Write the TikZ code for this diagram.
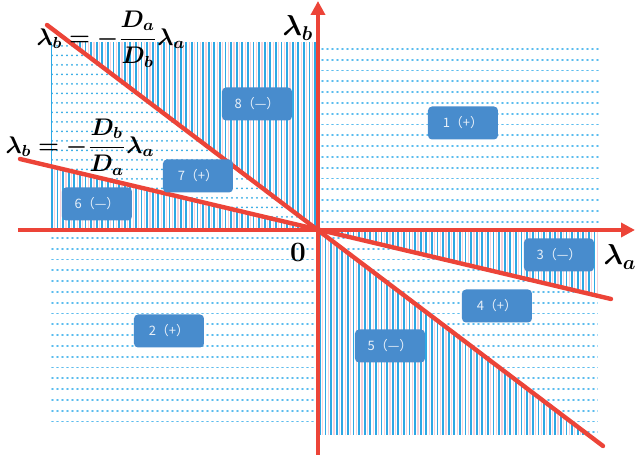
\documentclass[tikz,border=0pt]{standalone}
\usepackage{amsmath}
\usepackage{bm}
\usepackage{fontspec}
\newfontfamily\cjk{Noto Sans CJK SC}
\usetikzlibrary{arrows.meta}
\definecolor{hatchblue}{RGB}{45,168,228}
\definecolor{dashblue}{RGB}{90,188,238}
\definecolor{hatchpink}{RGB}{246,208,218}
\definecolor{boxblue}{RGB}{72,140,205}
\definecolor{axisred}{RGB}{236,68,56}
\newcommand{\vlines}[4]{
    \foreach \x in {#1,#2,...,#3} {
        \draw[hatchpink, line width=0.6pt] (\x+2.8,#4) -- (\x+2.8,0);
        \draw[hatchblue, line width=0.9pt] (\x,#4) -- (\x,0);
    }
}
\newcommand{\dashrows}[4]{
    \foreach \y in {#3,...,#4}
    \draw[dashblue, line width=0.9pt, line cap=round, dash pattern=on 0.5pt off 2pt] (#1,\y) -- (#2,\y);
}

\begin{document}
\begin{tikzpicture}[x=0.5pt,y=0.5pt,
    region/.style={rectangle, rounded corners=2pt, fill=boxblue, text=white!88!boxblue,
        minimum width=35pt, minimum height=16.5pt, inner sep=0pt, font=\cjk\fontsize{6.5}{7}\selectfont},
    axis/.style={axisred, line width=2.2pt},
    border/.style={axisred, line width=2.2pt, line cap=round}]
    \useasboundingbox (-318,-229) rectangle (320,230);
    % upper left: vertical lines, dots between the two borders
    \vlines{-266}{-260.4}{0}{188}
    \begin{scope}
        \clip (0,0) -- (-248,188) -- (-266,188) -- (-266,63) -- cycle;
        \fill[white] (-266,0) rectangle (0,188);
        \foreach \y in {184,174.5,...,0}
        \draw[hatchblue, line width=1pt, line cap=round, dash pattern=on 0pt off 2.5pt] (-266,\y) -- (0,\y);
    \end{scope}
    % lower right: vertical lines, dashes between the two borders
    \vlines{2}{7.6}{280}{-205}
    \begin{scope}
        \clip (0,0) -- (280,-66) -- (280,-205) -- (271,-205) -- cycle;
        \fill[white] (0,0) rectangle (280,-205);
        \dashrows{0}{280}{-8,-18.8}{-205}
    \end{scope}
    % the other two quadrants
    \dashrows{4}{280}{181,170.2}{8}
    \dashrows{-266}{-3}{-8,-18.8}{-202}
    % axes
    \draw[axis, -{Triangle[length=7pt,width=7pt]}] (-300,0) -- (317,0);
    \draw[axis, -{Triangle[length=7pt,width=7pt]}] (0,-225) -- (0,229);
    \coordinate (O) at (0,0);
    \node[font=\fontsize{14}{16}\selectfont] (lb) at (-20,202) {$\bm{\lambda_b}$};
    \node[font=\fontsize{14}{16}\selectfont] (la) at (302,-27) {$\bm{\lambda_a}$};
    \node[font=\bfseries\fontsize{14}{16}\selectfont] (zero) at (-20,-22) {0};
    % borders
    \draw[border] (-271,205) -- (285,-216);
    \draw[border] (-298,71) -- (293,-69);
    \node[font=\fontsize{12}{14}\selectfont] (eq1) at (-207,191)
        {$\bm{\lambda_b=-\dfrac{D_a}{D_b}\lambda_a}$};
    \node[font=\fontsize{12}{14}\selectfont] (eq2) at (-238,83)
        {$\bm{\lambda_b=-\dfrac{D_b}{D_a}\lambda_a}$};
    % regions
    \node[region] (r1) at (145,107) {1（+）};
    \node[region] (r2) at (-149,-101) {2（+）};
    \node[region] (r3) at (241,-25) {3（—）};
    \node[region] (r4) at (179,-76) {4（+）};
    \node[region] (r5) at (72,-116) {5（—）};
    \node[region] (r6) at (-221,26) {6（—）};
    \node[region] (r7) at (-120,54) {7（+）};
    \node[region] (r8) at (-61,126) {8（—）};
\end{tikzpicture}
\end{document}
